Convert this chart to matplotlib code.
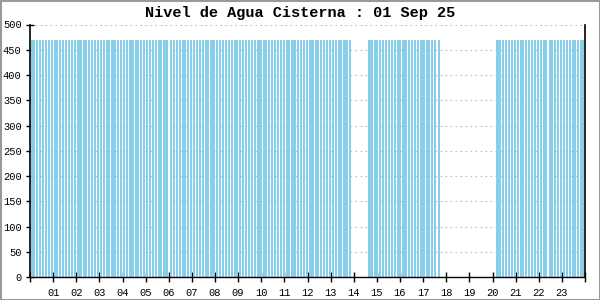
import matplotlib
matplotlib.use("Agg")
import matplotlib.pyplot as plt
from matplotlib.patches import Rectangle

titulo = "Nivel de Agua Cisterna : 01 Sep 25"

# reading times (minutes after midnight), each reading at level 470
minutos = [
    5, 11, 19, 26, 34, 41, 49, 56, 64, 71, 79, 86, 94, 101, 109, 116, 124, 131,
    139, 146, 154, 161, 169, 176, 184, 191, 199, 206, 214, 221, 229, 236, 244,
    251, 259, 266, 274, 281, 289, 296, 304, 311, 319, 326, 334, 341, 349, 356,
    366, 373, 381, 388, 396, 403, 411, 418, 426, 433, 441, 448, 456, 463, 471,
    478, 486, 493, 501, 508, 516, 523, 531, 538, 546, 553, 561, 568, 576, 583,
    591, 598, 606, 613, 621, 628, 636, 643, 651, 658, 666, 673, 681, 688, 696,
    703, 711, 718, 726, 733, 741, 748, 756, 763, 771, 778, 786, 793, 801, 808,
    816, 823, 831,
    879, 886, 894, 901, 909, 916, 924, 931, 939, 946, 954, 961, 969, 976, 984,
    991, 999, 1006, 1014, 1021, 1029, 1036, 1044, 1051, 1060,
    1213, 1220, 1228, 1235, 1243, 1250, 1258, 1265, 1273, 1280, 1288, 1295,
    1303, 1310, 1318, 1325, 1333, 1340, 1348, 1355, 1363, 1370, 1378, 1385,
    1393, 1400, 1408, 1415, 1423, 1430, 1436,
]
nivel = [470] * len(minutos)

y_ticks = [0, 50, 100, 150, 200, 250, 300, 350, 400, 450, 500]
x_ticks = list(range(0, 25))
x_labels = ["" if h in (0, 24) else f"{h:02d}" for h in x_ticks]

mono = "Liberation Mono"

fig = plt.figure(figsize=(6, 3), dpi=100)
fig.patch.set_facecolor("white")
ax = fig.add_axes([30 / 600, 1 - 277.3 / 300, 555 / 600, 252.8 / 300])

horas = [m / 60 for m in minutos]
ax.bar(horas, nivel, width=5.4 / 60, color="#87CEEB", edgecolor="none",
       linewidth=0, antialiased=False, zorder=2)

ax.set_xlim(0, 24)
ax.set_ylim(0, 500)
ax.set_axisbelow(True)
ax.yaxis.grid(True, color="#bbbbbb", linestyle=(0, (1.5, 3)), linewidth=0.8)
ax.xaxis.grid(False)

ax.set_yticks(y_ticks)
ax.set_yticklabels([str(v) for v in y_ticks], fontfamily=mono, fontsize=7.5)
ax.set_xticks(x_ticks)
ax.set_xticklabels(x_labels, fontfamily=mono, fontsize=7.5)
ax.tick_params(axis="y", direction="inout", length=6, width=1, pad=3,
               color="black")
ax.tick_params(axis="x", direction="inout", length=7, width=1, pad=4,
               color="black")

ax.spines["top"].set_visible(False)
ax.spines["left"].set_color("black")
ax.spines["right"].set_color("black")
ax.spines["left"].set_linewidth(1.2)
ax.spines["right"].set_linewidth(1.2)
ax.spines["bottom"].set_linestyle((0, (1, 1)))
ax.spines["bottom"].set_linewidth(1)
ax.spines["bottom"].set_color("black")

fig.text(0.5, 1 - 13 / 300, titulo, ha="center", va="center",
         fontfamily=mono, fontweight="bold", fontsize=11)

fig.add_artist(Rectangle((0, 0), 1, 1, transform=fig.transFigure,
                         fill=False, edgecolor="#999999", linewidth=2.2))

fig.savefig("out.png", dpi=100, facecolor="white")
